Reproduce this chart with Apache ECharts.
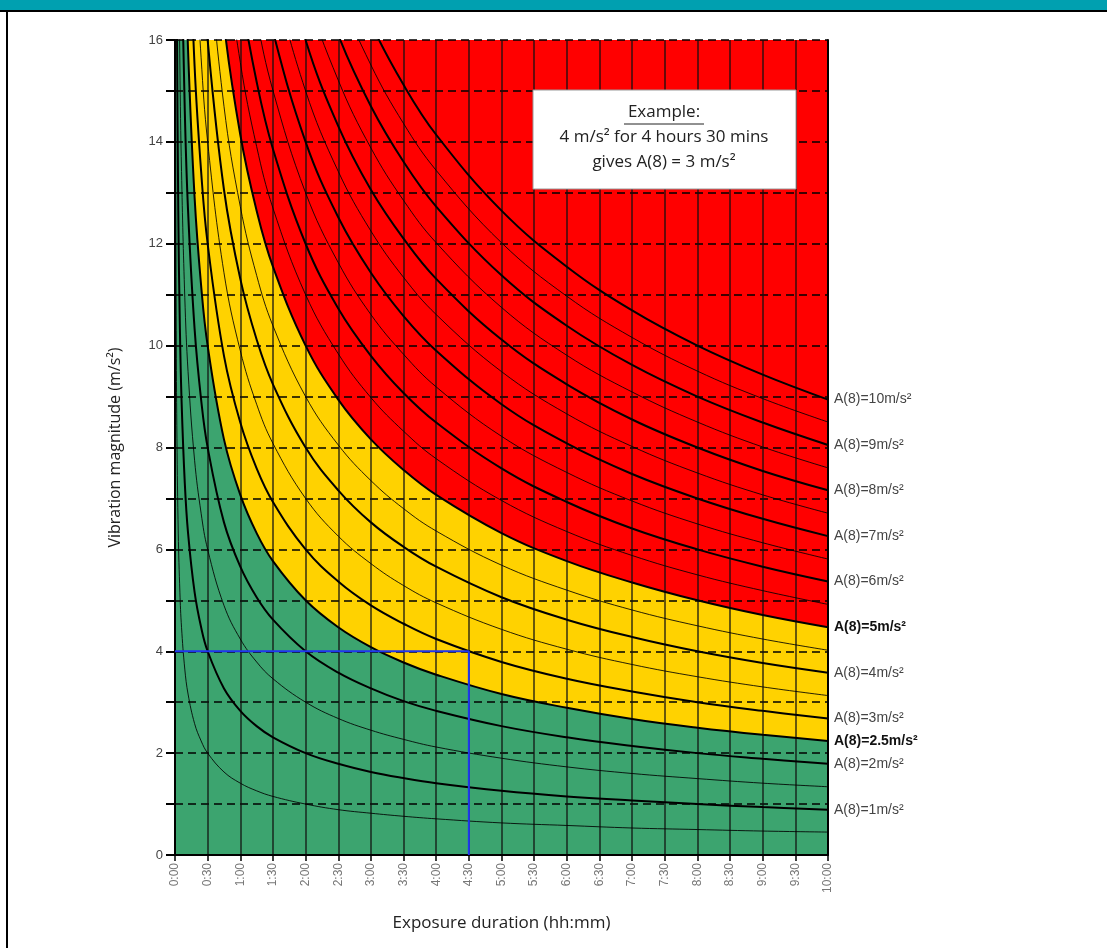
<!DOCTYPE html>
<html>
<head>
<meta charset="utf-8">
<script src="https://cdn.jsdelivr.net/npm/echarts@6/dist/echarts.min.js"></script>
<style>
  html, body { margin: 0; padding: 0; background: #fff; }
  #chart { width: 1107px; height: 948px; }
</style>
</head>
<body>
<div id="chart"></div>
<script>
// Exposure durations (hours) at which the curves were read
const hours = [0.005, 0.01, 0.02, 0.03, 0.05, 0.075, 0.1, 0.15, 0.2, 0.3, 0.4, 0.5, 0.75, 1, 1.25, 1.5, 2, 2.5, 3, 3.5, 4, 5, 6, 7, 8, 9, 10];

// Vibration magnitude (m/s²) along each constant-A(8) curve; each list ends at 10:00
const a8_0_5 = [20, 14.14, 10, 8.17, 6.32, 5.16, 4.47, 3.65, 3.16, 2.58, 2.24, 2, 1.63, 1.41, 1.26, 1.15, 1, 0.89, 0.82, 0.76, 0.71, 0.63, 0.58, 0.53, 0.5, 0.47, 0.45];
const a8_1   = [20, 16.33, 12.65, 10.33, 8.94, 7.30, 6.32, 5.16, 4.47, 4, 3.27, 2.83, 2.53, 2.31, 2, 1.79, 1.63, 1.51, 1.41, 1.26, 1.15, 1.07, 1, 0.94, 0.89];
const a8_1_5 = [24.49, 18.97, 15.49, 13.42, 10.95, 9.49, 7.75, 6.71, 6, 4.90, 4.24, 3.79, 3.46, 3, 2.68, 2.45, 2.27, 2.12, 1.90, 1.73, 1.60, 1.5, 1.41, 1.34];
const a8_2   = [20.66, 17.89, 14.61, 12.65, 10.33, 8.94, 8, 6.53, 5.66, 5.06, 4.62, 4, 3.58, 3.27, 3.02, 2.83, 2.53, 2.31, 2.14, 2, 1.89, 1.79];
const a8_2_5 = [100, 70.71, 50, 40.82, 31.62, 25.82, 22.36, 18.26, 15.81, 12.91, 11.18, 10, 8.16, 7.07, 6.32, 5.77, 5, 4.47, 4.08, 3.78, 3.54, 3.16, 2.89, 2.67, 2.5, 2.36, 2.24];
const a8_3   = [21.91, 18.97, 15.49, 13.42, 12, 9.80, 8.49, 7.59, 6.93, 6, 5.37, 4.90, 4.54, 4.24, 3.79, 3.46, 3.21, 3, 2.83, 2.68];
const a8_3_5 = [22.14, 18.07, 15.65, 14, 11.43, 9.90, 8.85, 8.08, 7, 6.26, 5.72, 5.29, 4.95, 4.43, 4.04, 3.74, 3.5, 3.30, 3.13];
const a8_4   = [20.66, 17.89, 16, 13.06, 11.31, 10.12, 9.24, 8, 7.16, 6.53, 6.05, 5.66, 5.06, 4.62, 4.28, 4, 3.77, 3.58];
const a8_4_5 = [20.12, 18, 14.70, 12.73, 11.38, 10.39, 9, 8.05, 7.35, 6.80, 6.36, 5.69, 5.20, 4.81, 4.5, 4.24, 4.02];
const a8_5   = [200, 141.4, 100, 81.65, 63.25, 51.64, 44.72, 36.51, 31.62, 25.82, 22.36, 20, 16.33, 14.14, 12.65, 11.55, 10, 8.94, 8.16, 7.56, 7.07, 6.32, 5.77, 5.35, 5, 4.71, 4.47];
const a8_5_5 = [22, 17.96, 15.56, 13.91, 12.70, 11, 9.84, 8.98, 8.32, 7.78, 6.96, 6.35, 5.88, 5.5, 5.19, 4.92];
const a8_6   = [19.60, 16.97, 15.18, 13.86, 12, 10.73, 9.80, 9.07, 8.49, 7.59, 6.93, 6.41, 6, 5.66, 5.37];
const a8_6_5 = [18.38, 16.44, 15.01, 13, 11.63, 10.61, 9.83, 9.19, 8.22, 7.51, 6.95, 6.5, 6.13, 5.81];
const a8_7   = [17.71, 16.17, 14, 12.52, 11.43, 10.58, 9.90, 8.85, 8.08, 7.48, 7, 6.60, 6.26];
const a8_7_5 = [18.97, 17.32, 15, 13.42, 12.25, 11.34, 10.61, 9.49, 8.66, 8.02, 7.5, 7.07, 6.71];
const a8_8   = [18.48, 16, 14.31, 13.06, 12.10, 11.31, 10.12, 9.24, 8.55, 8, 7.54, 7.16];
const a8_8_5 = [19.63, 17, 15.21, 13.88, 12.85, 12.02, 10.75, 9.81, 9.09, 8.5, 8.01, 7.60];
const a8_9   = [18, 16.10, 14.70, 13.61, 12.73, 11.38, 10.39, 9.62, 9, 8.49, 8.05];
const a8_9_5 = [19, 16.99, 15.51, 14.36, 13.44, 12.02, 10.97, 10.16, 9.5, 8.96, 8.50];
const a8_10  = [17.89, 16.33, 15.12, 14.14, 12.65, 11.55, 10.69, 10, 9.43, 8.94];

const levels = [0.5, 1, 1.5, 2, 2.5, 3, 3.5, 4, 4.5, 5, 5.5, 6, 6.5, 7, 7.5, 8, 8.5, 9, 9.5, 10];
const curves = [a8_0_5, a8_1, a8_1_5, a8_2, a8_2_5, a8_3, a8_3_5, a8_4, a8_4_5, a8_5, a8_5_5, a8_6, a8_6_5, a8_7, a8_7_5, a8_8, a8_8_5, a8_9, a8_9_5, a8_10];
const labelledLevels = [1, 2, 2.5, 3, 4, 5, 6, 7, 8, 9, 10];
const boldLevels = [2.5, 5];

// Axis tick labels
const durationLabels = ['0:00','0:30','1:00','1:30','2:00','2:30','3:00','3:30','4:00','4:30','5:00','5:30','6:00','6:30','7:00','7:30','8:00','8:30','9:00','9:30','10:00'];
const magnitudeLabels = ['0','2','4','6','8','10','12','14','16'];

// Worked example
const exampleDuration = 4.5;
const exampleMagnitude = 4;

function toPoints(vals) {
  const start = hours.length - vals.length;
  return vals.map((v, i) => [hours[start + i], v]);
}

const SMOOTH = 0.4;
const series = [];
// coloured zones
series.push({
  type: 'line', data: toPoints(a8_5), smooth: SMOOTH, symbol: 'none',
  lineStyle: { width: 0, opacity: 0 }, areaStyle: { color: '#ffd200', opacity: 1 }, z: 1, silent: true
});
series.push({
  type: 'line', data: toPoints(a8_2_5), smooth: SMOOTH, symbol: 'none',
  lineStyle: { width: 0, opacity: 0 }, areaStyle: { color: '#3ca46f', opacity: 1 }, z: 1, silent: true
});
// curves
levels.forEach((lv, k) => {
  const thick = Number.isInteger(lv) || lv === 2.5;
  const s = {
    type: 'line', data: toPoints(curves[k]), smooth: SMOOTH, symbol: 'none',
    lineStyle: { color: '#000', width: thick ? 2 : 1, opacity: thick ? 1 : 0.85 }, z: 4, silent: true
  };
  if (labelledLevels.includes(lv)) {
    s.endLabel = {
      show: true, distance: 6,
      formatter: () => 'A(8)=' + lv + 'm/s²',
      fontFamily: 'Liberation Sans, Arial, sans-serif', fontSize: 14,
      fontWeight: boldLevels.includes(lv) ? 'bold' : 'normal',
      color: boldLevels.includes(lv) ? '#111' : '#444'
    };
  }
  series.push(s);
});
// example path
series.push({
  type: 'line', data: [[0, exampleMagnitude], [exampleDuration, exampleMagnitude], [exampleDuration, 0]],
  symbol: 'none', lineStyle: { color: '#1f35f0', width: 2 }, z: 6, silent: true
});

const chart = echarts.init(document.getElementById('chart'), null, { renderer: 'canvas' });
chart.setOption({
  animation: false,
  grid: { left: 175, right: 279, top: 40, bottom: 93, show: true, backgroundColor: '#ff0000', borderWidth: 0, z: 0 },
  xAxis: {
    type: 'value', min: 0, max: 10, interval: 0.5, z: 3,
    name: 'Exposure duration (hh:mm)', nameLocation: 'middle', nameGap: 60,
    nameTextStyle: { fontFamily: 'Open Sans, sans-serif', fontSize: 17, color: '#222' },
    axisLine: { lineStyle: { color: '#000', width: 2 } },
    axisTick: { show: true, length: 6, lineStyle: { color: '#000', width: 1.5 } },
    axisLabel: {
      rotate: 90, margin: 8, fontSize: 12, color: '#777', fontFamily: 'Liberation Sans, Arial, sans-serif',
      formatter: v => durationLabels[Math.round(v * 2)] || ''
    },
    splitLine: { show: true, lineStyle: { color: '#111', width: 1.5, opacity: 0.85 } }
  },
  yAxis: [{
    type: 'value', min: 0, max: 16, interval: 1, z: 3,
    name: 'Vibration magnitude (m/s²)', nameLocation: 'middle', nameGap: 52,
    nameTextStyle: { fontFamily: 'Open Sans, sans-serif', fontSize: 16, color: '#222' },
    axisLine: { show: true, lineStyle: { color: '#000', width: 2 } },
    axisTick: { show: true, length: 9, lineStyle: { color: '#000', width: 2 } },
    axisLabel: {
      margin: 12, fontSize: 13, color: '#444', fontFamily: 'Liberation Sans, Arial, sans-serif',
      formatter: v => (v % 2 === 0 ? magnitudeLabels[v / 2] : '')
    },
    splitLine: { show: true, lineStyle: { color: '#000', width: 1.5, type: [8, 5] } }
  }, {
    type: 'value', min: 0, max: 16, position: 'right', z: 3,
    axisLine: { show: true, lineStyle: { color: '#000', width: 2 } },
    axisTick: { show: false }, axisLabel: { show: false }, splitLine: { show: false }
  }],
  graphic: [
    { type: 'rect', shape: { x: 0, y: 0, width: 1107, height: 11 }, style: { fill: '#00a0b0' }, z: 100 },
    { type: 'line', shape: { x1: 0, y1: 11, x2: 1107, y2: 11 }, style: { stroke: '#000', lineWidth: 2 }, z: 100 },
    { type: 'line', shape: { x1: 7, y1: 11, x2: 7, y2: 948 }, style: { stroke: '#000', lineWidth: 2 }, z: 100 },
    { type: 'rect', shape: { x: 533, y: 90, width: 263, height: 99 }, style: { fill: '#fff', stroke: '#9a9a9a', lineWidth: 1 }, z: 100 },
    { type: 'text', x: 664, y: 112, z: 101, style: { text: 'Example:', fontFamily: 'Open Sans, sans-serif', fontSize: 17, fill: '#222', align: 'center', verticalAlign: 'middle' } },
    { type: 'line', shape: { x1: 624, y1: 124, x2: 704, y2: 124 }, style: { stroke: '#222', lineWidth: 1 }, z: 101 },
    { type: 'text', x: 664, y: 137, z: 101, style: { text: '4 m/s² for 4 hours 30 mins', fontFamily: 'Open Sans, sans-serif', fontSize: 17, fill: '#222', align: 'center', verticalAlign: 'middle' } },
    { type: 'text', x: 664, y: 162, z: 101, style: { text: 'gives A(8) = 3 m/s²', fontFamily: 'Open Sans, sans-serif', fontSize: 17, fill: '#222', align: 'center', verticalAlign: 'middle' } }
  ],
  series: series
});
</script>
</body>
</html>
